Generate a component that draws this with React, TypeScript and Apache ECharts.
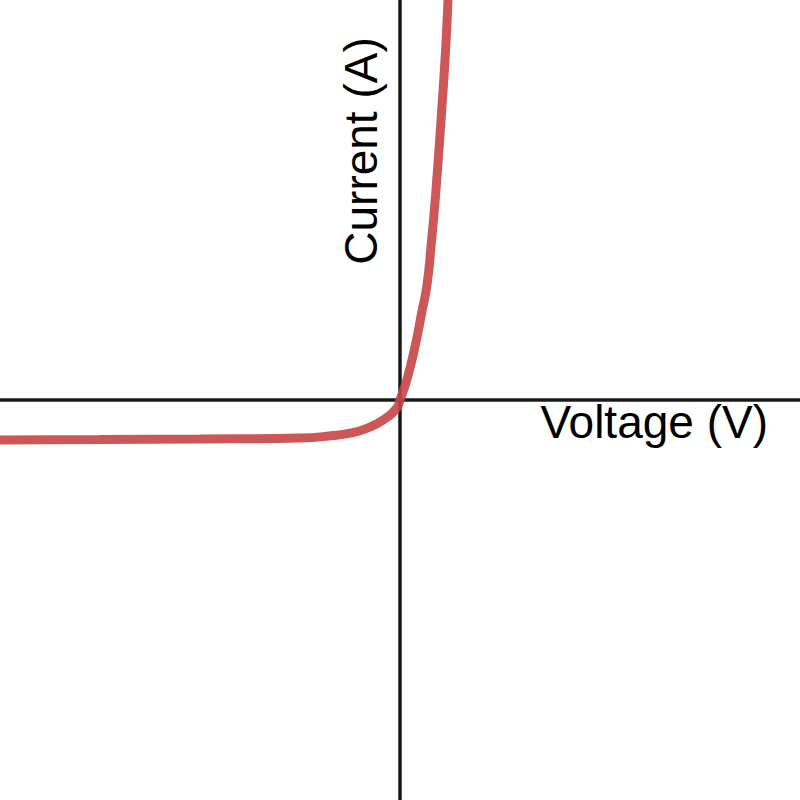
import { useEffect, useRef } from 'react'
import * as echarts from 'echarts'

// curve (x: voltage, y: current), 40px per unit
const voltage = [-10, -7.5, -5, -2.5, -1.67, -1.25, -0.83, -0.42, -0.08, 0, 0.17, 0.375, 0.54, 0.675, 0.79, 0.89, 1.06, 1.14, 1.2, 1.24]
const current = [-1.0, -0.99, -0.975, -0.95, -0.89, -0.83, -0.71, -0.5, -0.2, 0, 0.5, 1.33, 2.17, 2.875, 4.0, 5.125, 7.5, 8.75, 10, 11]

const xLabel = 'Voltage (V)'
const yLabel = 'Current (A)'

export default function App() {
  const chartRef = useRef<HTMLDivElement>(null)

  useEffect(() => {
    if (!chartRef.current) return
    document.body.style.margin = '0'

    const chart = echarts.init(chartRef.current, undefined, { renderer: 'svg' })
    const font = '46px "Liberation Sans", Arial, sans-serif'

    chart.setOption({
      animation: false,
      backgroundColor: '#ffffff',
      grid: { left: 0, right: 0, top: 0, bottom: 0 },
      xAxis: {
        type: 'value',
        min: -10,
        max: 10,
        axisLine: { onZero: true, lineStyle: { color: '#1a1a1a', width: 3.5 } },
        axisTick: { show: false },
        axisLabel: { show: false },
        splitLine: { show: false },
      },
      yAxis: {
        type: 'value',
        min: -10,
        max: 10,
        axisLine: { onZero: true, lineStyle: { color: '#1a1a1a', width: 3.5 } },
        axisTick: { show: false },
        axisLabel: { show: false },
        splitLine: { show: false },
      },
      series: [
        {
          type: 'line',
          data: voltage.map((v, i) => [v, current[i]]),
          smooth: 0.5,
          showSymbol: false,
          lineStyle: { color: '#c84545', width: 9, opacity: 0.9 },
          z: 5,
        },
      ],
      graphic: [
        {
          type: 'text',
          x: 768,
          y: 422,
          style: {
            text: xLabel,
            font,
            fill: '#000',
            textAlign: 'right',
            textVerticalAlign: 'middle',
          },
        },
        {
          type: 'text',
          x: 361,
          y: 151,
          rotation: Math.PI / 2,
          style: {
            text: yLabel,
            font,
            fill: '#000',
            textAlign: 'center',
            textVerticalAlign: 'middle',
          },
        },
      ],
    })

    return () => {
      chart.dispose()
    }
  }, [])

  return <div ref={chartRef} style={{ width: '800px', height: '800px' }}></div>
}
